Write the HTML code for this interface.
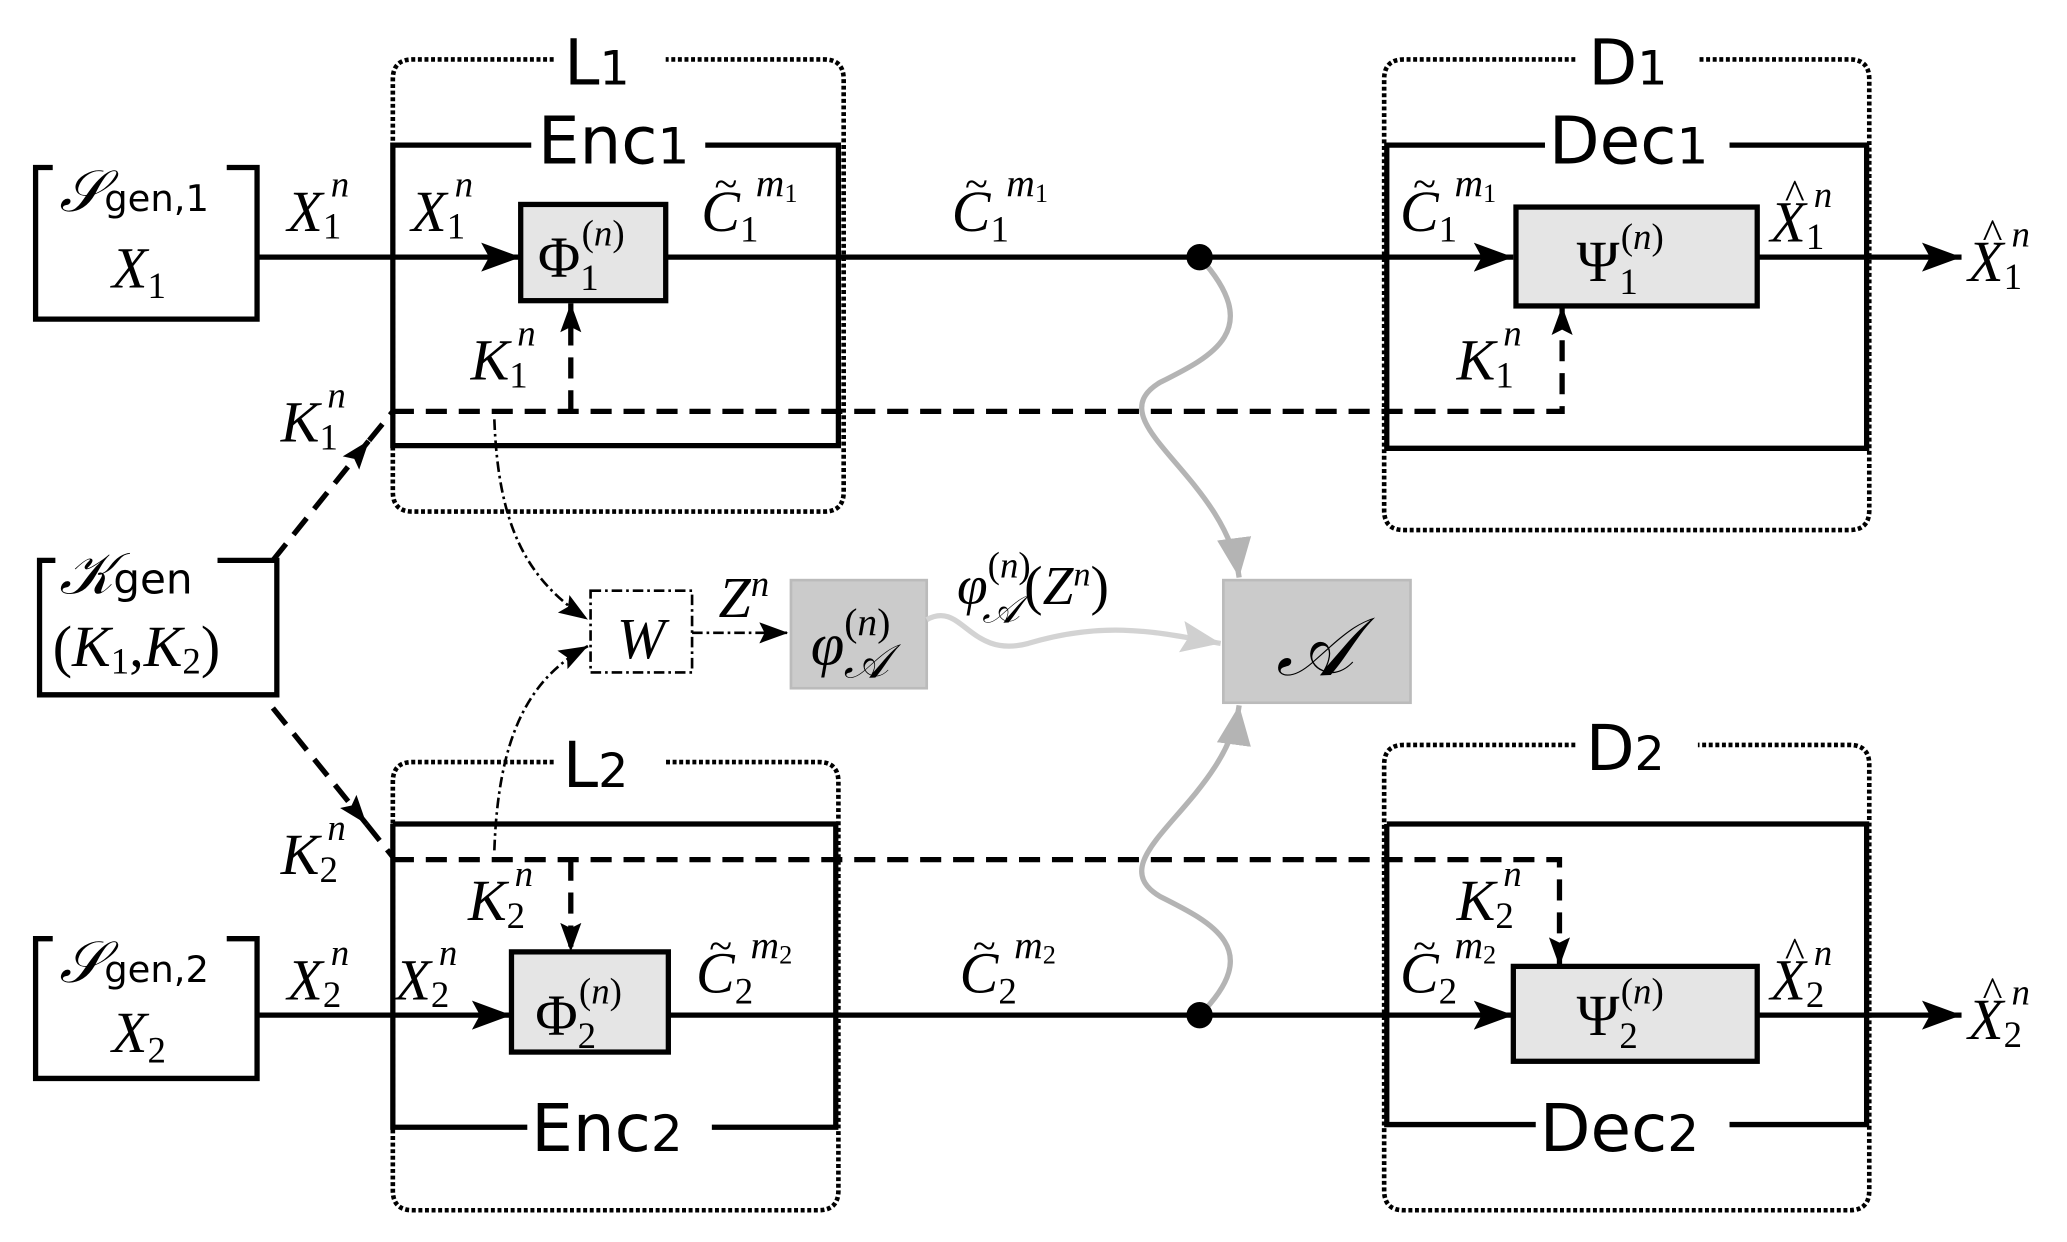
<!DOCTYPE html>
<html><head><meta charset="utf-8"><style>
html,body{margin:0;padding:0;background:#fff;}
svg{display:block;}
.m{font-family:"Liberation Serif",serif;font-style:italic;fill:#000;}
.r{font-family:"Liberation Serif",serif;fill:#000;}
.s{font-family:"DejaVu Sans","Liberation Sans",sans-serif;fill:#000;}
</style></head><body>
<svg width="2067" height="1242" viewBox="0 0 1568 942" xmlns="http://www.w3.org/2000/svg">
<defs>
<marker id="ab" markerUnits="userSpaceOnUse" markerWidth="32" markerHeight="24" refX="30" refY="12" orient="auto"><path d="M0,1 L30,12 L0,23 L6,12 Z" fill="#000"/></marker>
<marker id="as" markerUnits="userSpaceOnUse" markerWidth="24" markerHeight="18" refX="22" refY="9" orient="auto"><path d="M0,1 L22,9 L0,17 L4,9 Z" fill="#000"/></marker>
<marker id="ag" markerUnits="userSpaceOnUse" markerWidth="32" markerHeight="28" refX="30" refY="14" orient="auto"><path d="M0,1 L30,14 L0,27 Z" fill="#b4b4b4"/></marker>
<marker id="ag2" markerUnits="userSpaceOnUse" markerWidth="32" markerHeight="28" refX="30" refY="14" orient="auto"><path d="M0,2 L30,14 L0,26 L5,14 Z" fill="#d0d0d0"/></marker>
</defs>
<g fill="none" stroke="#000" stroke-width="4">
<g stroke-dasharray="3,2" stroke-width="3.5">
<path d="M420,45 H313 Q298,45 298,60 V373 Q298,388 313,388 H625 Q640,388 640,373 V60 Q640,45 625,45 H505"/>
<path d="M420,578 H313 Q298,578 298,593 V903 Q298,918 313,918 H621 Q636,918 636,903 V593 Q636,578 621,578 H505"/>
<path d="M1195,45 H1065 Q1050,45 1050,60 V387 Q1050,402 1065,402 H1403 Q1418,402 1418,387 V60 Q1418,45 1403,45 H1288"/>
<path d="M1195,565 H1065 Q1050,565 1050,580 V903 Q1050,918 1065,918 H1403 Q1418,918 1418,903 V580 Q1418,565 1403,565 H1288"/>
</g>
<path d="M403,110 H298 V338 H636 V110 H535"/>
<path d="M1172,110 H1052 V340 H1416 V110 H1312"/>
<path d="M298,625 H634 V855 H540 M400,855 H298 V625"/>
<path d="M1052,625 H1416 V853 H1312 M1165,853 H1052 V625"/>
<path d="M40,127 H27 V242 H195 V127 H172"/>
<path d="M40,712 H27 V818 H195 V712 H172"/>
<path d="M42,425 H30 V527 H210 V425 H165"/>
<path d="M195,195 H395" marker-end="url(#ab)"/>
<path d="M505,195 H1148" marker-end="url(#ab)"/>
<path d="M1333,195 H1488" marker-end="url(#ab)"/>
<path d="M195,770 H388" marker-end="url(#ab)"/>
<path d="M507,770 H1148" marker-end="url(#ab)"/>
<path d="M1333,770 H1488" marker-end="url(#ab)"/>
<g stroke-dasharray="16,9">
<path d="M298,312 H1185 V232" marker-end="url(#as)"/>
<path d="M433,312 V230" marker-end="url(#as)"/>
<path d="M298,652 H1183 V733" marker-end="url(#as)"/>
<path d="M433,652 V722" marker-end="url(#as)"/>
<path d="M207,425 L280,334" marker-end="url(#as)"/>
<path d="M280,334 L298,312"/>
<path d="M207,537 L278,625" marker-end="url(#as)"/>
<path d="M278,625 L298,650"/>
</g>
</g>
<g fill="none" stroke="#000" stroke-width="2" stroke-dasharray="8,3,2,3">
<path d="M375,318 C378,400 400,440 446,470" marker-end="url(#as)"/>
<path d="M375,645 C378,560 400,515 446,490" marker-end="url(#as)"/>
<path d="M525,480 H598" marker-end="url(#as)"/>
<rect x="448" y="448" width="77" height="62"/>
</g>
<rect x="395" y="155" width="110" height="73" fill="#e5e5e5" stroke="#000" stroke-width="4"/>
<rect x="388" y="722" width="119" height="76" fill="#e5e5e5" stroke="#000" stroke-width="4"/>
<rect x="1150" y="157" width="183" height="75" fill="#e5e5e5" stroke="#000" stroke-width="4"/>
<rect x="1148" y="733" width="185" height="72" fill="#e5e5e5" stroke="#000" stroke-width="4"/>
<rect x="600" y="440" width="103" height="82" fill="#cbcbcb" stroke="#bbb" stroke-width="2"/>
<rect x="928" y="440" width="142" height="93" fill="#cbcbcb" stroke="#bbb" stroke-width="2"/>
<g fill="none" stroke-width="4">
<path d="M703,470 C730,455 735,500 780,488 C840,470 880,480 926,488" stroke="#d3d3d3" marker-end="url(#ag2)"/>
<path d="M910,195 C960,250 920,270 880,290 C830,320 930,360 940,438" stroke="#b4b4b4" marker-end="url(#ag)"/>
<path d="M910,770 C960,720 920,700 880,680 C830,650 930,610 940,535" stroke="#b4b4b4" marker-end="url(#ag)"/>
</g>
<circle cx="910" cy="195" r="10" fill="#000"/>
<circle cx="910" cy="770" r="10" fill="#000"/>
<g class="s">
<text x="428" y="64" font-size="48">L<tspan font-size="36">1</tspan></text>
<text x="427" y="597" font-size="48">L<tspan font-size="36">2</tspan></text>
<text x="1205" y="64" font-size="48">D<tspan font-size="36">1</tspan></text>
<text x="1203" y="584" font-size="48">D<tspan font-size="36">2</tspan></text>
<text x="408" y="124" font-size="50">Enc<tspan font-size="38">1</tspan></text>
<text x="403" y="873" font-size="50">Enc<tspan font-size="38">2</tspan></text>
<text x="1175" y="124" font-size="50">Dec<tspan font-size="38">1</tspan></text>
<text x="1168" y="873" font-size="50">Dec<tspan font-size="38">2</tspan></text>
</g>
<g class="m" font-size="44">
<text x="45" y="160">𝒮<tspan class="s" font-style="normal" font-size="28">gen,1</tspan></text>
<text x="85" y="218">X<tspan font-style="normal" font-size="28" dy="8">1</tspan></text>
<text x="45" y="745">𝒮<tspan class="s" font-style="normal" font-size="28">gen,2</tspan></text>
<text x="85" y="798">X<tspan font-style="normal" font-size="28" dy="8">2</tspan></text>
<text x="45" y="450">𝒦<tspan class="s" font-style="normal" font-size="32">gen</tspan></text>
<text x="40" y="505"><tspan font-style="normal">(</tspan>K<tspan font-style="normal" font-size="28" dy="6">1</tspan><tspan font-style="normal" dy="-6">,</tspan>K<tspan font-style="normal" font-size="28" dy="6">2</tspan><tspan font-style="normal" dy="-6">)</tspan></text>
<text x="218" y="175">X<tspan font-style="normal" font-size="28" dy="6">1</tspan><tspan font-size="28" dy="-32" dx="-8">n</tspan></text>
<text x="312" y="175">X<tspan font-style="normal" font-size="28" dy="6">1</tspan><tspan font-size="28" dy="-32" dx="-8">n</tspan></text>
<text x="218" y="758">X<tspan font-style="normal" font-size="28" dy="6">2</tspan><tspan font-size="28" dy="-32" dx="-8">n</tspan></text>
<text x="300" y="758">X<tspan font-style="normal" font-size="28" dy="6">2</tspan><tspan font-size="28" dy="-32" dx="-8">n</tspan></text>
<text x="357" y="288">K<tspan font-style="normal" font-size="28" dy="6">1</tspan><tspan font-size="28" dy="-32" dx="-8">n</tspan></text>
<text x="213" y="335">K<tspan font-style="normal" font-size="28" dy="6">1</tspan><tspan font-size="28" dy="-32" dx="-8">n</tspan></text>
<text x="1105" y="288">K<tspan font-style="normal" font-size="28" dy="6">1</tspan><tspan font-size="28" dy="-32" dx="-8">n</tspan></text>
<text x="213" y="663">K<tspan font-style="normal" font-size="28" dy="6">2</tspan><tspan font-size="28" dy="-32" dx="-8">n</tspan></text>
<text x="355" y="698">K<tspan font-style="normal" font-size="28" dy="6">2</tspan><tspan font-size="28" dy="-32" dx="-8">n</tspan></text>
<text x="1105" y="698">K<tspan font-style="normal" font-size="28" dy="6">2</tspan><tspan font-size="28" dy="-32" dx="-8">n</tspan></text>
<text x="532" y="175">C<tspan font-style="normal" font-size="28" dy="8">1</tspan><tspan font-size="30" dy="-34" dx="-2">m</tspan><tspan font-style="normal" font-size="20" dy="4">1</tspan></text>
<text x="722" y="175">C<tspan font-style="normal" font-size="28" dy="8">1</tspan><tspan font-size="30" dy="-34" dx="-2">m</tspan><tspan font-style="normal" font-size="20" dy="4">1</tspan></text>
<text x="1062" y="175">C<tspan font-style="normal" font-size="28" dy="8">1</tspan><tspan font-size="30" dy="-34" dx="-2">m</tspan><tspan font-style="normal" font-size="20" dy="4">1</tspan></text>
<text x="528" y="753">C<tspan font-style="normal" font-size="28" dy="8">2</tspan><tspan font-size="30" dy="-34" dx="-2">m</tspan><tspan font-style="normal" font-size="20" dy="4">2</tspan></text>
<text x="728" y="753">C<tspan font-style="normal" font-size="28" dy="8">2</tspan><tspan font-size="30" dy="-34" dx="-2">m</tspan><tspan font-style="normal" font-size="20" dy="4">2</tspan></text>
<text x="1062" y="753">C<tspan font-style="normal" font-size="28" dy="8">2</tspan><tspan font-size="30" dy="-34" dx="-2">m</tspan><tspan font-style="normal" font-size="20" dy="4">2</tspan></text>
<text x="1343" y="183">X<tspan font-style="normal" font-size="28" dy="6">1</tspan><tspan font-size="28" dy="-32" dx="-8">n</tspan></text>
<text x="1493" y="213">X<tspan font-style="normal" font-size="28" dy="6">1</tspan><tspan font-size="28" dy="-32" dx="-8">n</tspan></text>
<text x="1343" y="758">X<tspan font-style="normal" font-size="28" dy="6">2</tspan><tspan font-size="28" dy="-32" dx="-8">n</tspan></text>
<text x="1493" y="788">X<tspan font-style="normal" font-size="28" dy="6">2</tspan><tspan font-size="28" dy="-32" dx="-8">n</tspan></text>
<text x="545" y="468">Z<tspan font-size="28" dy="-16">n</tspan></text>
<text x="468" y="499">W</text>
<text x="615" y="504" font-size="46">φ<tspan font-size="30" dy="-22" font-style="normal">(</tspan><tspan font-size="30">n</tspan><tspan font-size="30" font-style="normal">)</tspan></text>
<text x="640" y="514" font-size="36">𝒜</text>
<text x="726" y="458" font-size="42">φ<tspan font-size="28" dy="-20" font-style="normal">(</tspan><tspan font-size="28">n</tspan><tspan font-size="28" font-style="normal">)</tspan><tspan font-style="normal" font-size="42" dy="20" dx="-5">(</tspan>Z<tspan font-size="26" dy="-14">n</tspan><tspan font-style="normal" font-size="42" dy="14">)</tspan></text>
<text x="745" y="472" font-size="30">𝒜</text>
<text x="968" y="512" font-size="62">𝒜</text>
</g>
<g class="r" font-size="32">
<text x="542" y="150">~</text><text x="732" y="150">~</text><text x="1072" y="150">~</text>
<text x="538" y="728">~</text><text x="738" y="728">~</text><text x="1072" y="728">~</text>
<text x="1354" y="158">^</text><text x="1504" y="188">^</text>
<text x="1354" y="733">^</text><text x="1504" y="763">^</text>
</g>
<g class="r" font-size="44">
<text x="408" y="210">Φ<tspan font-size="28" dy="10">1</tspan><tspan font-size="28" dy="-34" dx="-13">(</tspan><tspan font-size="28" font-style="italic">n</tspan><tspan font-size="28">)</tspan></text>
<text x="406" y="785">Φ<tspan font-size="28" dy="10">2</tspan><tspan font-size="28" dy="-34" dx="-13">(</tspan><tspan font-size="28" font-style="italic">n</tspan><tspan font-size="28">)</tspan></text>
<text x="1196" y="213">Ψ<tspan font-size="28" dy="10">1</tspan><tspan font-size="28" dy="-34" dx="-13">(</tspan><tspan font-size="28" font-style="italic">n</tspan><tspan font-size="28">)</tspan></text>
<text x="1196" y="785">Ψ<tspan font-size="28" dy="10">2</tspan><tspan font-size="28" dy="-34" dx="-13">(</tspan><tspan font-size="28" font-style="italic">n</tspan><tspan font-size="28">)</tspan></text>
</g>
</svg>
</body></html>
